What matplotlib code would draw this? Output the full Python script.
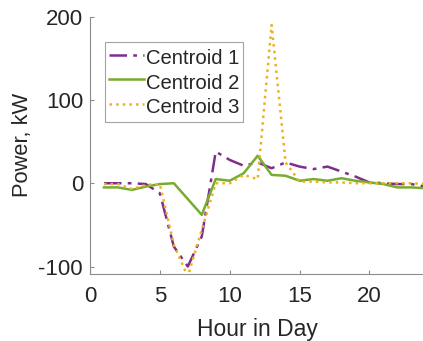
import matplotlib
matplotlib.use("Agg")
from matplotlib import pyplot as plt
import numpy as np

plt.rcParams['font.family'] = ['Liberation Sans', 'DejaVu Sans']
plt.rcParams['axes.unicode_minus'] = False

hours = list(range(1, 25))
centroid1 = [0, 0, 0, -1, -12, -76, -100, -64, 38, 28, 21, 25,
             18, 25, 20, 17, 20, 14, 8, 1, 0, -1, -1, -4]
centroid2 = [-5, -5, -8, -4, -1, 0, -19, -38, 5, 3, 12, 33,
             10, 9, 3, 5, 3, 6, 3, 1, -1, -5, -5, -6]
centroid3 = [-1, -1, -7, -2, -1, -74, -112, -56, 0, 0, 10, 5,
             190, 25, 2, 2, 1, 1, 0, 0, 0, 0, 0, -1]

text_col = '#262626'
axis_col = '#8c8c8c'

fig = plt.figure(figsize=(4.23, 3.41), dpi=100)
ax = fig.add_axes([90 / 423, 67 / 341, 335.3 / 423, 257.3 / 341])

ax.plot(hours, centroid1, color='#7E2F8E', linestyle='-.', linewidth=1.8,
        dashes=(7, 2.5, 1.5, 2.5), label='Centroid 1')
ax.plot(hours, centroid2, color='#77AC30', linestyle='-', linewidth=1.8,
        label='Centroid 2')
ax.plot(hours, centroid3, color='#EDB120', linestyle=':', linewidth=1.8,
        label='Centroid 3')

ax.set_xlim(0, 24)
ax.set_ylim(-109, 200)
ax.set_xticks([0, 5, 10, 15, 20])
ax.set_yticks([-100, 0, 100, 200])

for s in ['top', 'right']:
    ax.spines[s].set_visible(False)
for s in ['left', 'bottom']:
    ax.spines[s].set_color(axis_col)
    ax.spines[s].set_linewidth(0.8)
ax.tick_params(direction='in', length=3, width=0.8, color=axis_col,
               labelsize=16, labelcolor=text_col)
ax.tick_params(axis='x', pad=9)
ax.tick_params(axis='y', pad=5)

ax.set_xlabel('Hour in Day', fontsize=16.5, color=text_col, labelpad=7.5)
ax.set_ylabel('Power, kW', fontsize=15.75, color=text_col, labelpad=4)

leg = ax.legend(loc='upper left', bbox_to_anchor=(15 / 335.3, 1 - 25 / 257.3),
                fontsize=14.6, frameon=True, fancybox=False,
                handlelength=1.7, handleheight=1.4, handletextpad=0.1,
                borderpad=0.2, labelspacing=0.05, borderaxespad=0)
leg.get_frame().set_edgecolor(axis_col)
leg.get_frame().set_linewidth(0.8)
for t in leg.get_texts():
    t.set_color(text_col)

fig.savefig('out.png', dpi=100)
